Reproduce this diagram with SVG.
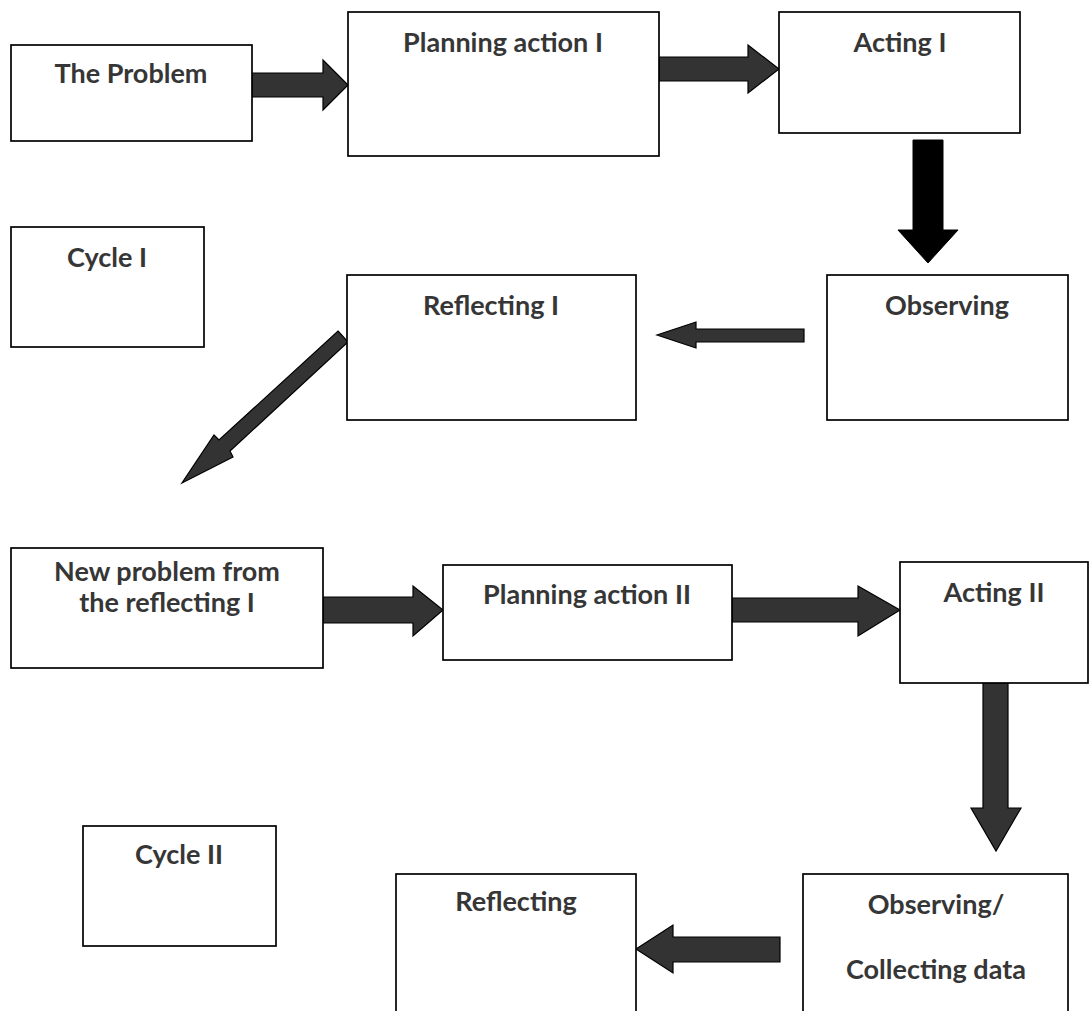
<svg xmlns="http://www.w3.org/2000/svg" width="1089" height="1011" viewBox="0 0 1089 1011">
<style>
.box{fill:#fff;stroke:#000;stroke-width:1.7}
.lbl{font-family:Lato,"Open Sans",sans-serif;font-weight:700;font-size:27px;fill:#363636;text-anchor:middle}
.arr{fill:#333;stroke:#000;stroke-width:1.2;stroke-linejoin:miter}
.arrb{fill:#000;stroke:#000;stroke-width:1}
</style>
<rect width="1089" height="1011" fill="#fff"/>
<g id="connectors">
<polygon class="arr" points="252,73 323,73 323,60 348,85 323,110 323,97 252,97"/>
<polygon class="arr" points="659,57 748,57 748,45 779,69 748,93 748,81 659,81"/>
<polygon class="arrb" points="913,140 943,140 943,230 958,230 928,263 898,230 913,230"/>
<polygon class="arr" points="804,329 804,342 696,342 696,348 657,335 696,322 696,329"/>
<polygon class="arr" points="338,331 348,342 230,451 233,457 182,483 214,435 219,440"/>
<polygon class="arr" points="323,597 413,597 413,586 443,610 413,636 413,623 323,623"/>
<polygon class="arr" points="732,598 858,598 858,586 900,610 858,636 858,622 732,622"/>
<polygon class="arr" points="983,683 1008,683 1008,808 1021,808 996,851 971,808 983,808"/>
<polygon class="arr" points="780,937 780,962 673,962 673,973 636,949 673,925 673,937"/>
</g>
<g id="the-problem"><rect class="box" x="11" y="45" width="241" height="96"/><text class="lbl" x="131" y="83">The Problem</text></g>
<g id="planning-action-1"><rect class="box" x="348" y="12" width="311" height="144"/><text class="lbl" x="503" y="52">Planning action I</text></g>
<g id="acting-1"><rect class="box" x="779" y="12" width="241" height="121"/><text class="lbl" x="900" y="52">Acting I</text></g>
<g id="cycle-1"><rect class="box" x="11" y="227" width="193" height="120"/><text class="lbl" x="107" y="267">Cycle I</text></g>
<g id="reflecting-1"><rect class="box" x="347" y="275" width="289" height="145"/><text class="lbl" x="491" y="315">Reflecting I</text></g>
<g id="observing"><rect class="box" x="827" y="275" width="241" height="145"/><text class="lbl" x="947" y="315">Observing</text></g>
<g id="new-problem"><rect class="box" x="11" y="548" width="312" height="120"/><text class="lbl" x="167" y="581">New problem from</text><text class="lbl" x="167" y="612">the reflecting I</text></g>
<g id="planning-action-2"><rect class="box" x="443" y="565" width="289" height="95"/><text class="lbl" x="587" y="604">Planning action II</text></g>
<g id="acting-2"><rect class="box" x="900" y="562" width="188" height="121"/><text class="lbl" x="994" y="602">Acting II</text></g>
<g id="cycle-2"><rect class="box" x="83" y="826" width="193" height="120"/><text class="lbl" x="179" y="864">Cycle II</text></g>
<g id="reflecting"><rect class="box" x="396" y="874" width="240" height="150"/><text class="lbl" x="516" y="911">Reflecting</text></g>
<g id="observing-collecting"><rect class="box" x="803" y="874" width="265" height="150"/><text class="lbl" x="936" y="914">Observing/</text><text class="lbl" x="936" y="979">Collecting data</text></g>
</svg>
